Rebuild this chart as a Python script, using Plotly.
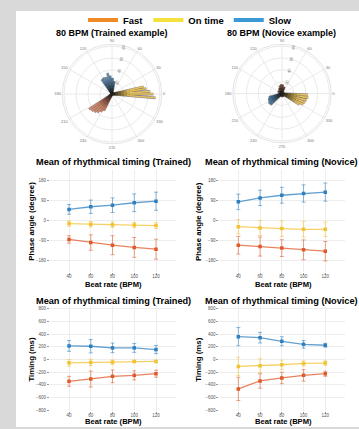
import plotly.graph_objects as go

W, H = 359, 429

# ---------------- data ----------------
bpm = [40, 60, 80, 100, 120]
series_names = ["Fast", "On time", "Slow"]

trained_phase_fast = [-85, -99, -111, -121, -129]
trained_phase_fast_err = [17, 35, 43, 45, 45]
trained_phase_ontime = [-13, -16, -18, -20, -22]
trained_phase_ontime_err = [12, 12, 13, 12, 13]
trained_phase_slow = [51, 63, 70, 81, 88]
trained_phase_slow_err = [22, 30, 33, 40, 41]

novice_phase_fast = [-111, -117, -124, -132, -138]
novice_phase_fast_err = [40, 43, 38, 45, 44]
novice_phase_ontime = [-27, -33, -36, -39, -39]
novice_phase_ontime_err = [32, 34, 35, 35, 33]
novice_phase_slow = [85, 103, 115, 123, 129]
novice_phase_slow_err = [35, 35, 36, 39, 41]

trained_timing_fast = [-343, -307, -265, -250, -224]
trained_timing_fast_err = [78, 125, 100, 72, 55]
trained_timing_ontime = [-52, -47, -42, -31, -31]
trained_timing_ontime_err = [52, 50, 35, 20, 20]
trained_timing_slow = [213, 208, 182, 182, 156]
trained_timing_slow_err = [85, 105, 75, 70, 65]

novice_timing_fast = [-463, -338, -291, -250, -224]
novice_timing_fast_err = [183, 114, 90, 90, 40]
novice_timing_ontime = [-109, -99, -83, -62, -57]
novice_timing_ontime_err = [145, 110, 73, 40, 35]
novice_timing_slow = [359, 343, 286, 239, 224]
novice_timing_slow_err = [143, 83, 72, 60, 30]

# polar example vectors (angle in degrees, length)
trained_fast_theta = [214, 220, 226, 232, 238, 244]
trained_fast_r = [46, 44, 42, 39, 35, 31]
trained_ontime_theta = [13, 9, 4, 0, -5]
trained_ontime_r = [54, 58, 64, 69, 73]
trained_slow_theta = [80, 88, 96, 102, 110, 118, 125]
trained_slow_r = [22, 27, 31, 36, 30, 31, 30]

novice_fast_theta = [70, 85, 95, 105, 120, 150, 200, 260, 290, 340]
novice_fast_r = [12, 15, 16, 14, 10, 8, 7, 6, 6, 8]
novice_ontime_theta = [-3, -9, -15, -21, -27, -32]
novice_ontime_r = [44, 45, 43, 42, 40, 35]
novice_slow_theta = [196, 203, 210, 217, 224]
novice_slow_r = [23, 25, 26, 28, 27]

phase_ticks = [-180, -90, 0, 90, 180]
timing_ticks = [-800, -600, -400, -200, 0, 200, 400, 600, 800]
radial_ticks = [20, 40, 60, 80]

# ---------------- style ----------------
FONT = "Liberation Sans, Arial, sans-serif"
line_colors = {"Fast": "#e0592a", "On time": "#f1c232", "Slow": "#2f80c0"}
legend_colors = {"Fast": "#f08a24", "On time": "#f3e23c", "Slow": "#3a98d4"}
polar_colors = {"Fast": "#d98566", "On time": "#e8c25a", "Slow": "#5a92c2"}


def px(x):
    return x / W


def py(y):
    return 1 - y / H


def hex_rgb(c):
    c = c.lstrip("#")
    return tuple(int(c[i:i + 2], 16) for i in (0, 2, 4))


def mix_black(c, t):
    r, g, b = hex_rgb(c)
    return "rgb(%d,%d,%d)" % (r * t + 20 * (1 - t), g * t + 20 * (1 - t), b * t + 20 * (1 - t))


fig = go.Figure()

# ---------- polar vectors with dark-to-colour gradient ----------
band_edges = [0, 5, 10, 15, 20, 25, 30, 1000]


def add_vectors(theta, r, color, subplot):
    th, rr = [], []
    for a, v in zip(theta, r):
        th += [a, a, None]
        rr += [0, v, None]
    fig.add_trace(go.Scatterpolar(theta=th, r=rr, mode="lines",
                                  line=dict(color="rgba(60,50,40,0.55)", width=2.7),
                                  subplot=subplot, showlegend=False, hoverinfo="skip"))
    for k in range(len(band_edges) - 1):
        lo, hi = band_edges[k], band_edges[k + 1]
        t = 1.0 if k == len(band_edges) - 2 else min(1.0, (lo + hi) / 2 / 30)
        th, rr = [], []
        for a, v in zip(theta, r):
            if v > lo:
                th += [a, a, None]
                rr += [lo, min(hi, v), None]
        if th:
            fig.add_trace(go.Scatterpolar(theta=th, r=rr, mode="lines",
                                          line=dict(color=mix_black(color, t), width=1.5),
                                          subplot=subplot, showlegend=False, hoverinfo="skip"))


add_vectors(trained_fast_theta, trained_fast_r, polar_colors["Fast"], "polar")
add_vectors(trained_ontime_theta, trained_ontime_r, polar_colors["On time"], "polar")
add_vectors(trained_slow_theta, trained_slow_r, polar_colors["Slow"], "polar")
add_vectors(novice_fast_theta, novice_fast_r, polar_colors["Fast"], "polar2")
add_vectors(novice_ontime_theta, novice_ontime_r, polar_colors["On time"], "polar2")
add_vectors(novice_slow_theta, novice_slow_r, polar_colors["Slow"], "polar2")

# ---------- line charts ----------
panels = [
    ("x", "y", [trained_phase_fast, trained_phase_ontime, trained_phase_slow],
     [trained_phase_fast_err, trained_phase_ontime_err, trained_phase_slow_err]),
    ("x2", "y2", [novice_phase_fast, novice_phase_ontime, novice_phase_slow],
     [novice_phase_fast_err, novice_phase_ontime_err, novice_phase_slow_err]),
    ("x3", "y3", [trained_timing_fast, trained_timing_ontime, trained_timing_slow],
     [trained_timing_fast_err, trained_timing_ontime_err, trained_timing_slow_err]),
    ("x4", "y4", [novice_timing_fast, novice_timing_ontime, novice_timing_slow],
     [novice_timing_fast_err, novice_timing_ontime_err, novice_timing_slow_err]),
]
for xa, ya, vals, errs in panels:
    for name, v, e in zip(series_names, vals, errs):
        c = line_colors[name]
        r, g, b = hex_rgb(c)
        fig.add_trace(go.Scatter(
            x=bpm, y=v, xaxis=xa, yaxis=ya, mode="lines+markers",
            line=dict(color="rgba(%d,%d,%d,0.75)" % (r, g, b), width=1.3),
            marker=dict(symbol="square", size=3.5, color=c),
            error_y=dict(type="data", array=e, color="rgba(%d,%d,%d,0.7)" % (r, g, b),
                         thickness=0.8, width=2),
            showlegend=False, hoverinfo="skip"))

# legend-only traces
for name in series_names:
    fig.add_trace(go.Scatter(x=[None], y=[None], xaxis="x", yaxis="y", mode="lines",
                             name=name, line=dict(color=legend_colors[name], width=4)))

# ---------- layout ----------
polar_common = dict(
    bgcolor="white",
    angularaxis=dict(rotation=0, direction="counterclockwise", dtick=30,
                     tickfont=dict(size=4, color="#777", family=FONT),
                     gridcolor="#eaeaea", linecolor="#e4e4e4", showline=True,
                     ticks="", ticksuffix=""),
    radialaxis=dict(range=[0, 83], tickvals=radial_ticks, angle=80,
                    tickfont=dict(size=4, color="#777", family=FONT),
                    gridcolor="#eaeaea", showline=False, ticks=""),
)

xrange = [22.5, 138.4]


def xaxis(dom, anchor):
    return dict(domain=dom, anchor=anchor, range=xrange, tickvals=bpm,
                tickfont=dict(size=4.5, color="#555", family=FONT),
                showgrid=True, gridcolor="#ededed", gridwidth=0.8, zeroline=False,
                showline=False, ticks="outside", ticklen=2, tickcolor="#999",
                ticklabelstandoff=-2)


def yaxis(dom, anchor, rng, ticks):
    return dict(domain=dom, anchor=anchor, range=rng, tickvals=ticks,
                tickfont=dict(size=4.5, color="#555", family=FONT),
                showgrid=True, gridcolor="#ededed", gridwidth=0.8, zeroline=False,
                showline=False, ticks="outside", ticklen=2, tickcolor="#999")


xl = [px(50), px(176)]
xr = [px(219.3), px(345.3)]
yp = [py(272.8), py(170.6)]
yt = [py(412.9), py(307.5)]

fig.update_layout(
    width=W, height=H,
    margin=dict(l=0, r=0, t=0, b=0),
    paper_bgcolor="#d9d9d9", plot_bgcolor="white",
    font=dict(family=FONT, color="black"),
    polar=dict(domain=dict(x=[px(62), px(162)], y=[py(144.5), py(44.5)]), **polar_common),
    polar2=dict(domain=dict(x=[px(232.5), px(331.5)], y=[py(143.5), py(44.5)]), **polar_common),
    xaxis=xaxis(xl, "y"), yaxis=yaxis(yp, "x", [-230, 230], phase_ticks),
    xaxis2=xaxis(xr, "y2"), yaxis2=yaxis(yp, "x2", [-230, 230], phase_ticks),
    xaxis3=xaxis(xl, "y3"), yaxis3=yaxis(yt, "x3", [-810, 840], timing_ticks),
    xaxis4=xaxis(xr, "y4"), yaxis4=yaxis(yt, "x4", [-810, 840], timing_ticks),
    legend=dict(orientation="h", x=px(190), xanchor="center", y=py(20), yanchor="middle",
                font=dict(size=9.5, family=FONT, weight="bold"), bgcolor="rgba(0,0,0,0)",
                itemwidth=30, tracegroupgap=0),
)

fig.add_shape(type="rect", xref="paper", yref="paper", x0=px(16), x1=1, y0=0, y1=py(11),
              fillcolor="white", line_width=0, layer="below")

annots = [
    ("<b>80 BPM (Trained example)</b>", 112, 33, 9, 0),
    ("<b>80 BPM (Novice example)</b>", 281, 33, 9, 0),
    ("<b>Mean of rhythmical timing (Trained)</b>", 113, 162.7, 9.2, 0),
    ("<b>Mean of rhythmical timing (Novice)</b>", 281, 162.7, 9.2, 0),
    ("<b>Mean of rhythmical timing (Trained)</b>", 113, 302.3, 9.2, 0),
    ("<b>Mean of rhythmical timing (Novice)</b>", 281, 302.3, 9.2, 0),
    ("<b>Beat rate (BPM)</b>", 113, 286, 7.6, 0),
    ("<b>Beat rate (BPM)</b>", 283, 286, 7.6, 0),
    ("<b>Beat rate (BPM)</b>", 113, 423, 7.6, 0),
    ("<b>Beat rate (BPM)</b>", 283, 423, 7.6, 0),
    ("<b>Phase angle (degree)</b>", 31.7, 222, 7.8, -90),
    ("<b>Phase angle (degree)</b>", 199, 222, 7.8, -90),
    ("<b>Timing (ms)</b>", 31.7, 361.5, 7.8, -90),
    ("<b>Timing (ms)</b>", 199, 361.5, 7.8, -90),
]
for text, x, y, size, ang in annots:
    fig.add_annotation(text=text, x=px(x), y=py(y), xref="paper", yref="paper",
                       showarrow=False, xanchor="center", yanchor="middle", textangle=ang,
                       font=dict(size=size, family=FONT, color="black"))

fig.write_html("out.html", config={"displayModeBar": False},
               post_script="document.body.style.margin='0';")
